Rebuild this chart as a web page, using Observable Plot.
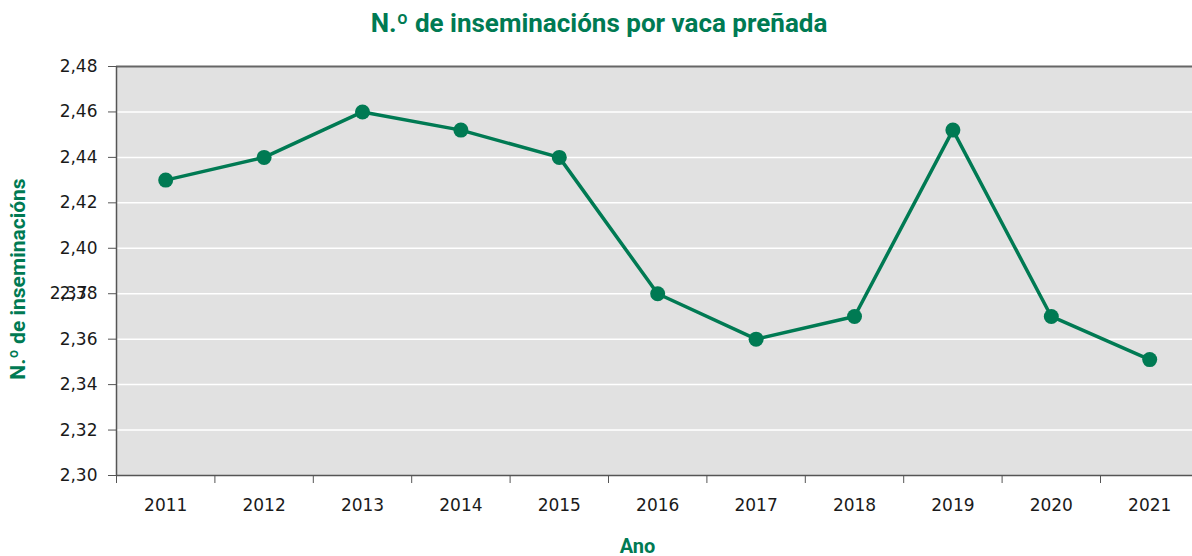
<!DOCTYPE html>
<html><head><meta charset="utf-8">
<script src="https://cdn.jsdelivr.net/npm/d3@7"></script>
<script src="https://cdn.jsdelivr.net/npm/@observablehq/plot@0.6"></script>
<style>
body{margin:0;background:#fff;font-family:Roboto,sans-serif;}
#title{height:44px;line-height:46px;text-align:center;font-weight:bold;font-size:26px;color:#007a53;padding-left:6px;}
#chart svg{display:block;}
</style></head><body>
<div id="title">N.º de inseminacións por vaca preñada</div>
<div id="chart"></div>
<script>
const years = [2011, 2012, 2013, 2014, 2015, 2016, 2017, 2018, 2019, 2020, 2021];
const values = [2.43, 2.44, 2.46, 2.452, 2.44, 2.38, 2.36, 2.37, 2.452, 2.37, 2.351];
const yTicks = [2.30, 2.32, 2.34, 2.36, 2.38, 2.40, 2.42, 2.44, 2.46, 2.48];
const yTitle = "N.º de inseminacións";
const xTitle = "Ano";
const strayLabels = [{v: 2.38, t: "2,37"}];

const data = years.map((y, i) => ({year: y, value: values[i]}));
const boundaries = years.map(y => y - 0.5).concat([years[years.length - 1] + 0.5]);
const fmt = d => d.toFixed(2).replace(".", ",");
const green = "#007a53";
const tickFont = "DejaVu Sans, sans-serif";

const chart = Plot.plot({
  width: 1192, height: 512,
  marginLeft: 116, marginRight: 0, marginTop: 22, marginBottom: 81,
  style: {fontFamily: "Roboto, sans-serif", fontSize: "17px", color: "#1a1a1a", background: "#fff"},
  x: {type: "linear", domain: [2010.5, 2021.5], range: [116, 1198.4]},
  y: {domain: [2.30, 2.48]},
  marks: [
    Plot.frame({fill: "#e1e1e1", stroke: null}),
    Plot.gridY(yTicks.slice(1, -1), {stroke: "#fff", strokeOpacity: 1, strokeWidth: 1.5}),
    Plot.ruleY([2.48], {stroke: "#666", strokeWidth: 2}),
    Plot.ruleY([2.30], {stroke: "#555", strokeWidth: 1.5}),
    Plot.ruleX([2010.5], {stroke: "#555", strokeWidth: 1.5}),
    Plot.axisY(yTicks, {tickSize: 8, tickPadding: 11, tickFormat: fmt, label: null, stroke: "#555", fill: "#1a1a1a", fontFamily: tickFont, fontSize: 17}),
    Plot.axisX(years, {tickSize: 0, tickPadding: 23, tickFormat: d => String(d), label: null, fill: "#1a1a1a", fontFamily: tickFont, fontSize: 17}),
    Plot.axisX(boundaries, {tickSize: 8, tickFormat: () => "", label: null, stroke: "#555"}),
    Plot.text(strayLabels, {y: "v", text: "t", frameAnchor: "left", dx: -29, textAnchor: "end", fill: "#1a1a1a", fontFamily: tickFont, fontSize: 17}),
    Plot.text([yTitle], {frameAnchor: "left", textAnchor: "middle", rotate: -90, dx: -98, dy: 8, fill: green, fontWeight: "bold", fontSize: 21}),
    Plot.text([xTitle], {frameAnchor: "bottom", textAnchor: "middle", dx: -17, dy: 77, fill: green, fontWeight: "bold", fontSize: 20}),
    Plot.line(data, {x: "year", y: "value", stroke: green, strokeWidth: 3.5}),
    Plot.dot(data, {x: "year", y: "value", r: 7.5, fill: green, stroke: null})
  ]
});
document.getElementById("chart").appendChild(chart);
</script>
</body></html>
